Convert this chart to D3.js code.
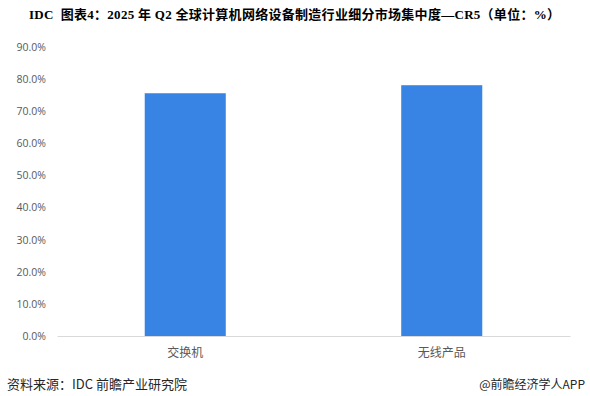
<!DOCTYPE html>
<html><head><meta charset="utf-8">
<script src="https://cdn.jsdelivr.net/npm/d3@7"></script>
<style>body{margin:0;background:#fff;}svg{display:block;}</style>
</head><body>
<script>
const categories = ["交换机", "无线产品"];
const values = [75.6, 78.1];
const yTicks = [0, 10, 20, 30, 40, 50, 60, 70, 80, 90];
const titleText = "IDC  图表4：2025 年 Q2 全球计算机网络设备制造行业细分市场集中度—CR5（单位：%）";
const sourceText = "资料来源：IDC 前瞻产业研究院";
const brandText = "@前瞻经济学人APP";

const W = 590, H = 396;
const svg = d3.select("body").append("svg").attr("width", W).attr("height", H);
const m = {left: 57, right: 20, top: 47, bottom: 60};
const x = d3.scaleBand().domain(categories).range([m.left, W - m.right]).paddingInner(0.684).paddingOuter(0.342);
const y = d3.scaleLinear().domain([0, 90]).range([336, 47]);

svg.append("text").attr("x", 29).attr("y", 19).attr("font-family", "'Liberation Serif','Noto Sans CJK SC',serif")
  .attr("font-weight", "bold").attr("font-size", 13).attr("fill", "#000").style("white-space", "pre")
  .attr("textLength", 531).text(titleText);

const yAxis = svg.append("g").attr("transform", `translate(${m.left},0)`)
  .call(d3.axisLeft(y).tickValues(yTicks).tickFormat(d => d.toFixed(1) + "%").tickSize(0).tickPadding(11));
yAxis.select(".domain").remove();
yAxis.selectAll("text").attr("font-family", "'Open Sans','Noto Sans CJK SC',sans-serif").attr("font-size", 10.5).attr("fill", "#595959");

svg.append("g").selectAll("rect").data(values).join("rect")
  .attr("x", (d, i) => x(categories[i])).attr("width", x.bandwidth())
  .attr("y", d => y(d)).attr("height", d => y(0) - y(d)).attr("fill", "#3784E5");

const xAxis = svg.append("g").attr("transform", `translate(0,${y(0)})`)
  .call(d3.axisBottom(x).tickSize(0).tickPadding(12));
xAxis.select(".domain").attr("stroke", "#d9d9d9");
xAxis.selectAll("text").attr("font-family", "'Noto Sans CJK SC',sans-serif").attr("font-size", 12).attr("fill", "#595959");

svg.append("text").attr("x", 7).attr("y", 389).attr("font-family", "'Noto Sans CJK SC',sans-serif")
  .attr("font-size", 13).attr("fill", "#262626").text(sourceText);
svg.append("text").attr("x", 585).attr("y", 389).attr("text-anchor", "end").attr("font-family", "'Noto Sans CJK SC',sans-serif")
  .attr("font-size", 12).attr("fill", "#262626").text(brandText);
</script>
</body></html>
